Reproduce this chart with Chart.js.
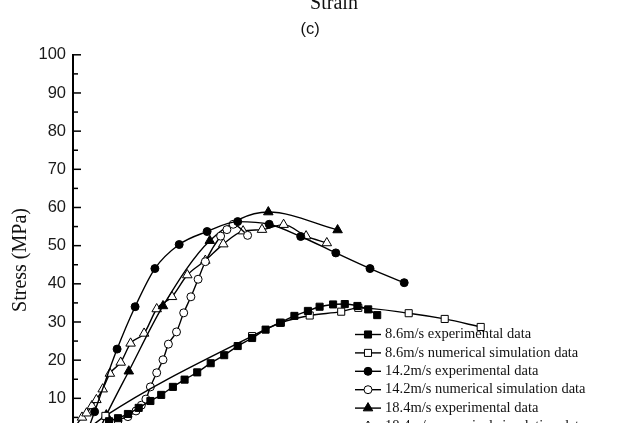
<!DOCTYPE html>
<html>
<head>
<meta charset="utf-8">
<script src="https://cdn.jsdelivr.net/npm/chart.js@4.4.1/dist/chart.umd.min.js"></script>
<style>
  html, body { margin: 0; padding: 0; background: #fff; overflow: hidden; }
  #wrap { position: relative; width: 623px; height: 480px; }
</style>
</head>
<body>
<div id="wrap"><canvas id="chart" width="623" height="480"></canvas></div>
<script>
// values: strain (x) and stress in MPa (y)
const exp86Strain = [0.0017, 0.0030, 0.0040, 0.0050, 0.0061, 0.0073, 0.0086, 0.0098, 0.0111, 0.0124, 0.0138, 0.0153, 0.0168,
  0.0183, 0.0199, 0.0214, 0.0230, 0.0246, 0.0261, 0.0274, 0.0289, 0.0302, 0.0316, 0.0328, 0.0338];
const exp86Stress = [0, 2.2, 4.0, 4.8, 5.9, 7.5, 9.3, 10.9, 13.0, 14.9, 16.8, 19.2, 21.3,
  23.7, 25.8, 28.0, 29.8, 31.6, 32.9, 34.0, 34.6, 34.7, 34.2, 33.3, 31.8];

const sim86Strain = [0.0006, 0.0036, 0.0199, 0.0231, 0.0263, 0.0298, 0.0317, 0.0373, 0.0413, 0.0453];
const sim86Stress = [0, 5.4, 26.3, 29.8, 31.7, 32.7, 33.7, 32.3, 30.8, 28.7];

const exp142Strain = [0.0014, 0.0024, 0.0049, 0.0069, 0.0091, 0.0118, 0.0149, 0.0183, 0.0218, 0.0253, 0.0292, 0.0330, 0.0368];
const exp142Stress = [0, 6.5, 22.9, 34.0, 44.0, 50.3, 53.7, 56.3, 55.6, 52.4, 48.1, 44.0, 40.3];

const sim142Strain = [0.0039, 0.0050, 0.0061, 0.0070, 0.0076, 0.0081, 0.0086, 0.0093, 0.0100, 0.0106, 0.0115, 0.0123,
  0.0131, 0.0139, 0.0147, 0.0164, 0.0171, 0.0178, 0.0194];
const sim142Stress = [0, 4.1, 5.2, 6.7, 8.2, 9.8, 13.0, 16.7, 20.1, 24.2, 27.4, 32.4,
  36.6, 41.2, 45.8, 52.5, 54.2, 55.6, 52.7];

const exp184Strain = [0.0026, 0.0037, 0.0062, 0.0100, 0.0152, 0.0217, 0.0294];
const exp184Stress = [0, 5.6, 17.1, 34.2, 51.3, 58.8, 54.1];

const sim184Strain = [0.0000, 0.0010, 0.0015, 0.0021, 0.0026, 0.0033, 0.0041, 0.0053, 0.0064, 0.0079, 0.0093, 0.0110,
  0.0127, 0.0147, 0.0167, 0.0189, 0.0210, 0.0234, 0.0259, 0.0282];
const sim184Stress = [1.7, 5.0, 6.1, 8.0, 9.6, 12.4, 16.5, 19.4, 24.4, 27.0, 33.4, 36.6,
  42.3, 46.1, 50.4, 53.8, 54.2, 55.5, 52.5, 50.7];

const seriesLabels = [
  '8.6m/s experimental data',
  '8.6m/s numerical simulation data',
  '14.2m/s experimental data',
  '14.2m/s numerical simulation data',
  '18.4m/s experimental data',
  '18.4m/s numerical simulation data'
];
const yTickValues = [0, 10, 20, 30, 40, 50, 60, 70, 80, 90, 100];

const SERIF = '"Liberation Serif", "Times New Roman", serif';
const SANS = '"Liberation Sans", Arial, sans-serif';

const pts = (xs, ys) => xs.map((x, i) => ({ x: x, y: ys[i] }));

const series = (label, data, style, radius, filled) => ({
  label: label,
  data: data,
  showLine: true,
  borderColor: '#000',
  borderWidth: 1.4,
  cubicInterpolationMode: 'monotone',
  pointStyle: style,
  pointRadius: radius,
  pointHoverRadius: radius,
  pointBorderWidth: 1,
  pointBorderColor: '#000',
  pointBackgroundColor: filled ? '#000' : '#fff'
});

// inward major/minor ticks on the stress axis
const stressTicks = {
  id: 'stressTicks',
  afterDatasetsDraw(chart) {
    const y = chart.scales.y, ctx = chart.ctx, left = chart.chartArea.left;
    ctx.save();
    ctx.strokeStyle = '#000';
    ctx.lineWidth = 1.5;
    yTickValues.forEach(v => {
      [v, v + 5].forEach((t, k) => {
        if (t > 100) return;
        const py = y.getPixelForValue(t);
        ctx.beginPath();
        ctx.moveTo(left, py);
        ctx.lineTo(left + (k === 0 ? 8 : 5), py);
        ctx.stroke();
      });
    });
    ctx.restore();
  }
};

// captions and axis title
const captions = {
  id: 'captions',
  afterDraw(chart) {
    const ctx = chart.ctx;
    ctx.save();
    ctx.fillStyle = '#111';
    ctx.textAlign = 'center';
    ctx.textBaseline = 'alphabetic';
    ctx.font = '20px ' + SERIF;
    ctx.fillText('Strain', 334, 8.5);
    ctx.font = '16.5px ' + SANS;
    ctx.fillText('(c)', 310, 34);
    ctx.translate(20.5, 260);
    ctx.rotate(-Math.PI / 2);
    ctx.textBaseline = 'middle';
    ctx.font = '20px ' + SERIF;
    ctx.fillText('Stress (MPa)', 0, 0);
    ctx.restore();
  }
};

// legend drawn inside the plot area, lower right
const insideLegend = {
  id: 'insideLegend',
  afterDraw(chart) {
    const ctx = chart.ctx, area = chart.chartArea;
    const x0 = area.left + 282, y0 = area.top + 279.7, step = 18.4;
    ctx.save();
    chart.data.datasets.forEach((ds, i) => {
      const cy = y0 + i * step;
      ctx.strokeStyle = '#000';
      ctx.lineWidth = 1.4;
      ctx.beginPath();
      ctx.moveTo(x0, cy);
      ctx.lineTo(x0 + 26, cy);
      ctx.stroke();
      ctx.fillStyle = ds.pointBackgroundColor;
      ctx.lineWidth = 1;
      Chart.helpers.drawPoint(ctx, { pointStyle: ds.pointStyle, radius: ds.pointRadius, borderWidth: 1, rotation: 0 }, x0 + 13, cy);
      ctx.fillStyle = '#111';
      ctx.font = '14.5px ' + SERIF;
      ctx.textAlign = 'left';
      ctx.textBaseline = 'alphabetic';
      ctx.fillText(ds.label, x0 + 30, cy + 3.6);
    });
    ctx.restore();
  }
};

new Chart(document.getElementById('chart'), {
  type: 'scatter',
  data: {
    datasets: [
      series(seriesLabels[0], pts(exp86Strain, exp86Stress), 'rect', 5, true),
      series(seriesLabels[1], pts(sim86Strain, sim86Stress), 'rect', 5, false),
      series(seriesLabels[2], pts(exp142Strain, exp142Stress), 'circle', 4, true),
      series(seriesLabels[3], pts(sim142Strain, sim142Stress), 'circle', 4, false),
      series(seriesLabels[4], pts(exp184Strain, exp184Stress), 'triangle', 5.5, true),
      series(seriesLabels[5], pts(sim184Strain, sim184Stress), 'triangle', 5.5, false)
    ]
  },
  options: {
    responsive: false,
    animation: false,
    layout: { padding: { top: 54.8, left: 0, right: 10, bottom: 43.5 } },
    plugins: {
      legend: { display: false },
      tooltip: { enabled: false }
    },
    scales: {
      x: {
        type: 'linear',
        min: 0,
        max: 0.06,
        display: false
      },
      y: {
        min: 0,
        max: 100,
        afterFit(s) { s.width = 73; },
        afterBuildTicks(s) { s.ticks = yTickValues.map(v => ({ value: v })); },
        grid: { display: false, drawTicks: false },
        border: { display: true, color: '#000', width: 2 },
        ticks: {
          padding: 7,
          color: '#1a1a1a',
          font: { family: SANS, size: 16.5 }
        }
      }
    }
  },
  plugins: [stressTicks, captions, insideLegend]
});
</script>
</body>
</html>
